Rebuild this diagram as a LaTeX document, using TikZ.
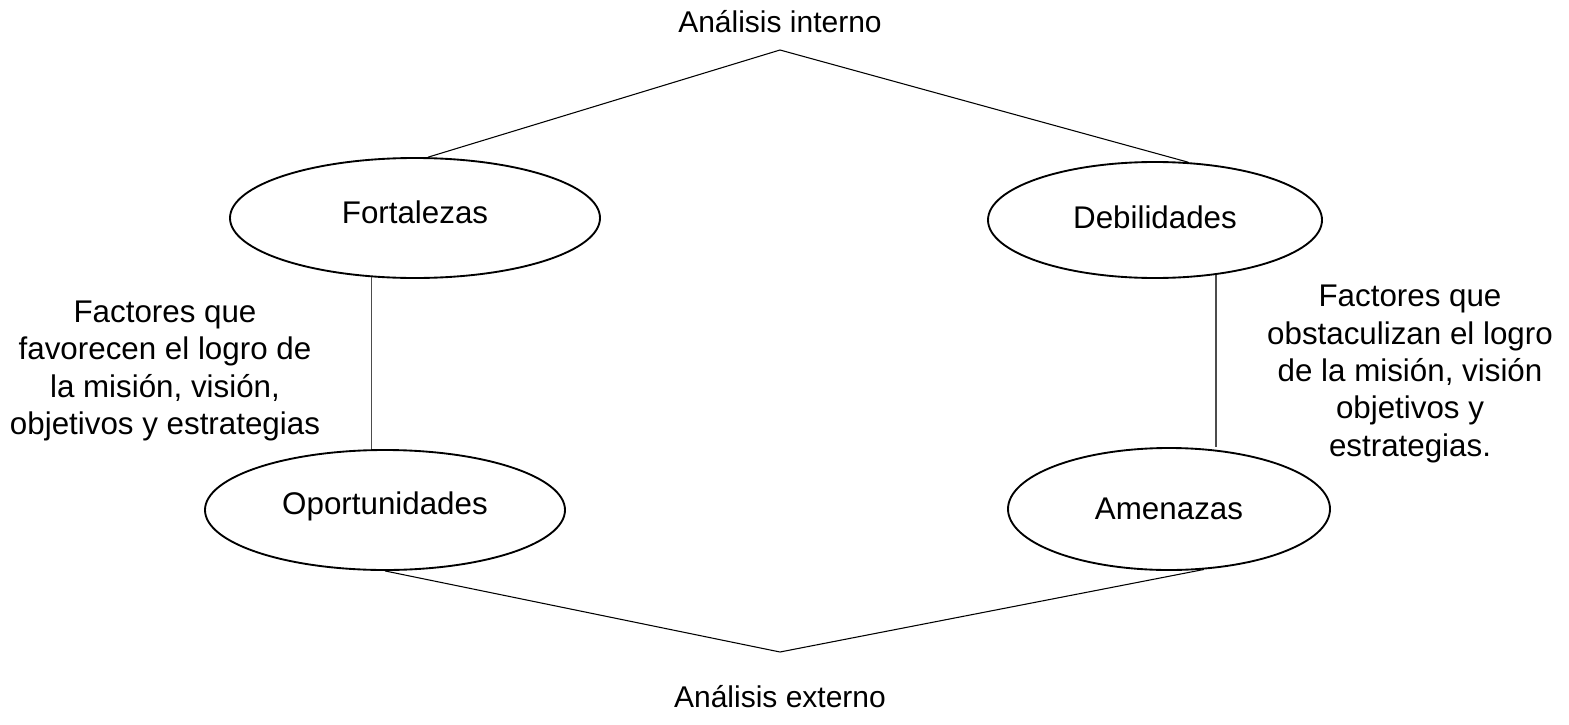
\documentclass[tikz,border=0pt]{standalone}
\usepackage{fontspec}
\setmainfont{Liberation Sans}
\usetikzlibrary{shapes.geometric,positioning,calc}

\begin{document}
\begin{tikzpicture}[
    x=0.75pt, y=-0.75pt,
    every node/.style={font=\fontsize{23.5}{28}\selectfont},
    oval/.style={
        draw,
        ellipse,
        line width=1.4pt,
        inner sep=0pt
    },
    side/.style={
        align=center,
        inner sep=0pt
    },
    title/.style={
        inner sep=0pt,
        font=\fontsize{22.5}{27}\selectfont
    },
    link/.style={
        line width=0.8pt
    }
]
\useasboundingbox (0,0) rectangle (1569,724);

\node[oval, minimum width=277.5pt, minimum height=90pt] (fortalezas) at (415,218) {\raisebox{9pt}{Fortalezas}};
\node[oval, minimum width=250.5pt, minimum height=87pt] (debilidades) at (1155,220) {\raisebox{5pt}{Debilidades}};
\node[oval, minimum width=270pt, minimum height=90pt] (oportunidades) at (385,510) {\raisebox{11pt}{Oportunidades}};
\node[oval, minimum width=241.5pt, minimum height=91.5pt] (amenazas) at (1169,509) {Amenazas};

\coordinate (apexint) at (780,50);
\coordinate (apexext) at (780,652);

\node[title] (interno) at (780,22) {Análisis interno};
\node[title] (externo) at (780,697) {Análisis externo};

\node[side] (favorecen) at (165,371)
{Factores que\\favorecen el logro de\\la misión, visión,\\objetivos y estrategias};
\node[side] (obstaculizan) at (1410,374)
{Factores que\\obstaculizan el logro\\de la misión, visión\\objetivos y\\estrategias.};

% Internal analysis
\draw[link] (fortalezas.78) -- (apexint) -- (debilidades.60);

% Vertical links
\draw[link, black!70] (fortalezas.234) -- (fortalezas.234 |- oportunidades.north);
\draw[link, black!70] (debilidades.318) -- (debilidades.318 |- amenazas.north);

% External analysis
\draw[link] (oportunidades.south) -- (apexext) -- (amenazas.300);

\end{tikzpicture}
\end{document}
